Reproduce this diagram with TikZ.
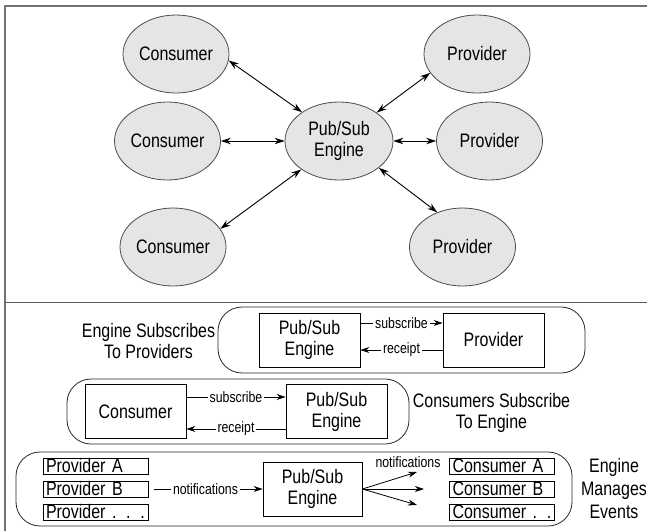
\documentclass[tikz,border=0pt]{standalone}
\usepackage{fontspec}
\setmainfont[FakeStretch=0.82]{Liberation Sans}
\usetikzlibrary{shapes.geometric,arrows.meta}
\begin{document}
\begin{tikzpicture}[x=1pt,y=-1pt,
  bigfont/.style={font=\fontsize{19.5}{21}\selectfont},
  smallfont/.style={font=\fontsize{15}{16}\selectfont},
  oval/.style={ellipse, draw=black!70, fill=black!10, line width=0.8pt, minimum width=106pt, minimum height=78pt, inner sep=0pt, align=center, bigfont},
  dbl/.style={{Stealth[length=10pt,width=6.5pt]}-{Stealth[length=10pt,width=6.5pt]}, line width=0.9pt},
  sbox/.style={draw, line width=0.8pt, minimum width=101pt, minimum height=54pt, inner sep=0pt, align=center, bigfont},
  group/.style={draw=black!85, line width=0.8pt, rounded corners=24pt, inner sep=0pt},
  lbl/.style={align=center, bigfont},
  arr/.style={-{Stealth[length=9pt,width=6pt]}, line width=0.8pt},
  tag/.style={fill=white, inner sep=2pt, smallfont},
  item/.style={draw, line width=0.7pt, text width=99pt, align=left, inner xsep=3pt, inner ysep=0.5pt, text height=13.5pt, text depth=1.5pt, bigfont},
]
\useasboundingbox (0,0) rectangle (647,531);
% frame
\draw[black!55, line width=1.2pt] (5,531) -- (5,6) -- (647,6);
\draw[black!65, line width=1pt] (5,302) -- (647,302);

% top part
\node[oval] (c1) at (176,54) {Consumer};
\node[oval] (c2) at (167.5,141) {Consumer};
\node[oval] (c3) at (173,247) {Consumer};
\node[oval, minimum width=108pt] (eng) at (339,141) {Pub/Sub\\Engine};
\node[oval] (p1) at (477,54) {Provider};
\node[oval] (p2) at (489.5,141) {Provider};
\node[oval] (p3) at (462.5,247) {Provider};
\draw[dbl] (c1.-7.5) -- (eng.142);
\draw[dbl] (c2.0) -- (eng.180);
\draw[dbl] (c3.21) -- (eng.-143);
\draw[dbl] (eng.37) -- (p1.202.6);
\draw[dbl] (eng.0) -- (p2.180);
\draw[dbl] (eng.-34) -- (p3.126);

% group 1
\node[group, minimum width=367pt, minimum height=66pt] (g1) at (401.5,340) {};
\node[sbox] (e1) at (309.5,340) {Pub/Sub\\Engine};
\node[sbox] (pr1) at (493.5,340) {Provider};
\draw[arr] ([yshift=17pt]e1.east) -- node[tag]{subscribe} ([yshift=17pt]pr1.west);
\draw[arr] ([yshift=-10pt]pr1.west) -- node[tag]{receipt} ([yshift=-10pt]e1.east);
\node[lbl] (l1) at (148.5,341) {Engine Subscribes\\To Providers};

% group 2
\node[group, minimum width=342pt, minimum height=65pt] (g2) at (238,411.5) {};
\node[sbox] (cs2) at (135.5,411.5) {Consumer};
\node[sbox] (e2) at (336.5,411.5) {Pub/Sub\\Engine};
\draw[arr] ([yshift=14.5pt]cs2.east) -- node[tag]{subscribe} ([yshift=14.5pt]e2.west);
\draw[arr] ([yshift=-17.5pt]e2.west) -- node[tag]{receipt} ([yshift=-17.5pt]cs2.east);
\node[lbl] (l2) at (491.5,413) {Consumers Subscribe\\To Engine};

% group 3
\node[group, minimum width=556pt, minimum height=74pt] (g3) at (294,489) {};
\node[item] (pa) at (95.5,466) {Provider A};
\node[item] (pb) at (95.5,489) {Provider B};
\node[item] (pc) at (95.5,512) {Provider . . .};
\node[item] (ca) at (502,466) {Consumer A};
\node[item] (cb) at (502,489) {Consumer B};
\node[item] (cc) at (502,512) {Consumer . . .};
\node[sbox, minimum width=99pt] (e3) at (312.5,489) {Pub/Sub\\Engine};
\draw[arr, shorten <=6pt] (pb.east) -- node[tag]{notifications} (e3.west);
\coordinate (f1) at (417,472);
\coordinate (f2) at (424,489);
\coordinate (f3) at (417,505);
\draw[arr] (e3.east) -- (f1);
\draw[arr] (e3.east) -- (f2);
\draw[arr] (e3.east) -- (f3);
\node[smallfont] (n2) at (408,462) {notifications};
\node[align=center, font=\fontsize{19.5}{23}\selectfont] (l3) at (614,489) {Engine\\Manages\\Events};
\end{tikzpicture}
\end{document}
